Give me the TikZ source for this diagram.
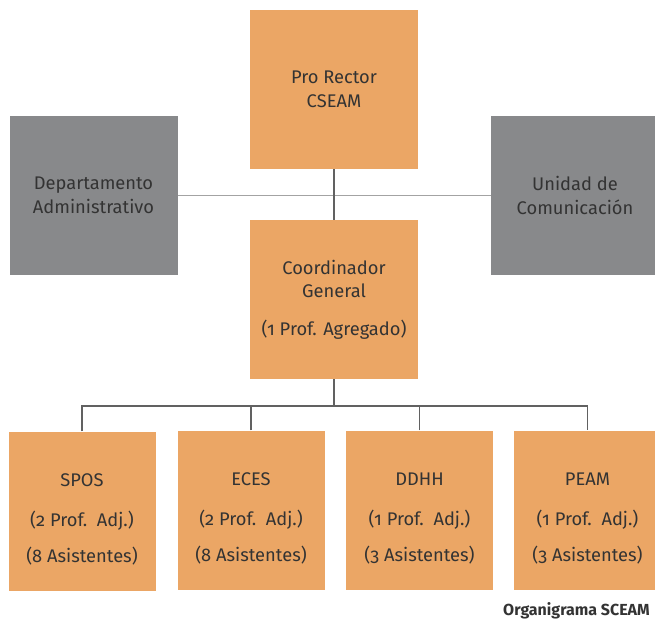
\documentclass[tikz,border=0pt]{standalone}
\usepackage{fontspec}
\setmainfont[Numbers=OldStyle]{Fira Sans}
\usetikzlibrary{calc}
\definecolor{naranja}{HTML}{EBA665}
\definecolor{gris}{HTML}{88898B}
\definecolor{texto}{HTML}{333333}
\tikzset{
  caja/.style={rectangle, fill=naranja, draw=none, text=texto, align=center,
    inner sep=0pt, font=\fontsize{18.3}{23.5}\selectfont},
  grande/.style={caja, minimum width=168, minimum height=159},
  gcaja/.style={grande, fill=gris},
  chica/.style={caja, minimum width=147, minimum height=159},
  linea/.style={draw=black!62, line width=1.1pt},
  lineaclara/.style={draw=black!36, line width=1.3pt}
}
\begin{document}
\begin{tikzpicture}[x=1pt, y=-1pt]
		%%%%% START %%%%%
		\useasboundingbox (0, 0) rectangle (655, 620);
		
		\node[grande] (prorector) at (334, 89.5) {Pro Rector\\CSEAM};
		\node[gcaja] (depadm) at (93.5, 195.5) {Departamento\\Administrativo};
		\node[gcaja] (unicom) at (575, 195.5) {Unidad de\\Comunicación};
		\node[grande] (coord) at (334, 299.5) {Coordinador\\General\\[14pt](1 Prof. Agregado)};
		
		\node[chica] (spos) at (82, 511) {\rule{0pt}{30pt}SPOS\\[16pt](2 Prof.\ \ Adj.)\\[13pt](8 Asistentes)};
		\node[chica] (eces) at (251, 510) {\rule{0pt}{30pt}ECES\\[16pt](2 Prof.\ \ Adj.)\\[13pt](8 Asistentes)};
		\node[chica] (ddhh) at (419.5, 510) {\rule{0pt}{30pt}DDHH\\[16pt](1 Prof.\ \ Adj.)\\[13pt](3 Asistentes)};
		\node[chica] (peam) at (587.5, 510) {\rule{0pt}{30pt}PEAM\\[16pt](1 Prof.\ \ Adj.)\\[13pt](3 Asistentes)};
		
		\coordinate (bus) at (334, 406);
		
		\draw[lineaclara] (depadm.east) -- (unicom.west);
		\draw[linea] (prorector.south) -- (coord.north);
		\draw[linea] (coord.south) -- (bus);
		\draw[linea] (spos.north) -- (spos.north |- bus) -- (peam.north |- bus) -- (peam.north);
		\draw[linea] (eces.north) -- (eces.north |- bus);
		\draw[linea] (ddhh.north) -- (ddhh.north |- bus);
		
		\node[anchor=base west, font=\bfseries\fontsize{16}{18}\selectfont, text=texto, inner sep=0pt] (titulo) at (503, 615) {Organigrama SCEAM};
		%%%%% END %%%%%
\end{tikzpicture}
\end{document}
